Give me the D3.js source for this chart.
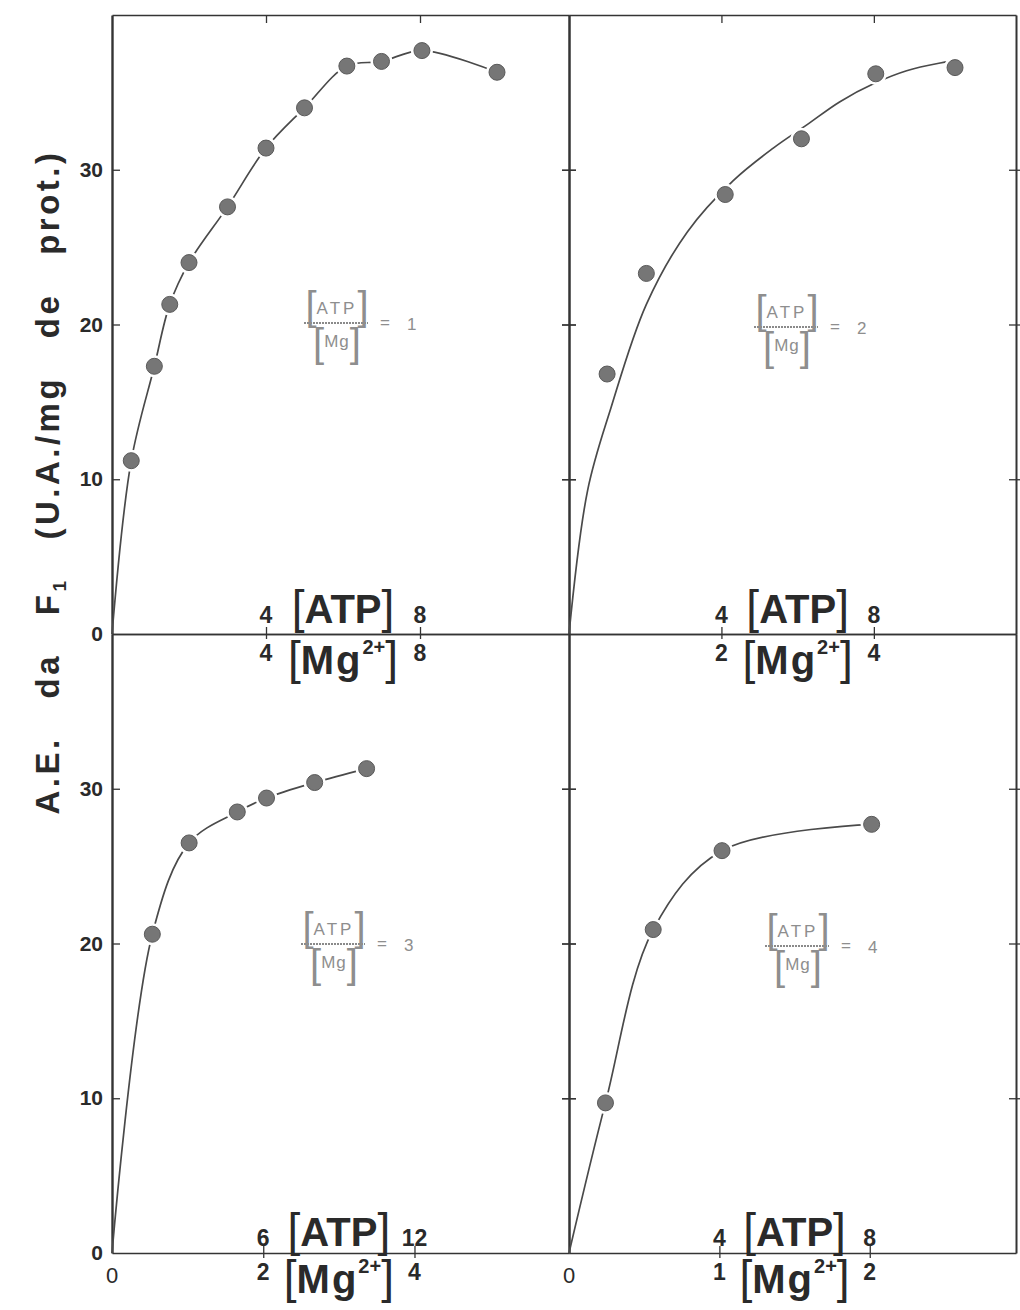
<!DOCTYPE html>
<html>
<head>
<meta charset="utf-8">
<script src="https://cdn.jsdelivr.net/npm/d3@7"></script>
<style>
  body { margin: 0; background: #fff; }
  svg { display: block; }
</style>
</head>
<body>
<svg id="chart" width="1020" height="1310"></svg>
<script>
// Specific activity of F1 (U.A./mg prot.) against [ATP], one series per [ATP]/[Mg] ratio
const atpRatio1 = [0.5, 1.1, 1.5, 2.0, 3.0, 4.0, 5.0, 6.1, 7.0, 8.05, 10.0];
const actRatio1 = [11.2, 17.3, 21.3, 24.0, 27.6, 31.4, 34.0, 36.7, 37.0, 37.7, 36.3];

const atpRatio2 = [1.0, 2.03, 4.1, 6.1, 8.05, 10.13];
const actRatio2 = [16.8, 23.3, 28.4, 32.0, 36.2, 36.6];

const atpRatio3 = [1.6, 3.06, 4.97, 6.13, 8.04, 10.1];
const actRatio3 = [20.6, 26.5, 28.5, 29.4, 30.4, 31.3];

const atpRatio4 = [0.97, 2.24, 4.07, 8.05];
const actRatio4 = [9.7, 20.9, 26.0, 27.7];

// hand-drawn saturation curve of the ratio-2 panel
const fitAtpRatio2 = [0, 0.49, 1.10, 2.03, 3.11, 4.31, 5.36, 6.24, 7.11, 8.03, 8.86, 9.74, 10.0];
const fitActRatio2 = [0, 9.3, 14.6, 21.3, 26.0, 29.3, 31.4, 32.9, 34.4, 35.6, 36.4, 36.9, 37.0];

const yTicks = [0, 10, 20, 30];
const ratios = [1, 2, 3, 4];
const atpTicks = [[4, 8], [4, 8], [6, 12], [4, 8]];
const mgTicks = [[4, 8], [2, 4], [2, 4], [1, 2]];

const svg = d3.select('#chart');
const ink = '#343434';
const grey = '#8e8e8e';
const SANS = '"Liberation Sans", Arial, Helvetica, sans-serif';

// panel frame coordinates
const XL = 112, XM = 569, XR = 1016, YT = 15, YM = 634, YB = 1253;

const panels = [
  { ratio: ratios[0], atp: atpRatio1, act: actRatio1, xr: [XL, XM], yr: [YM, YT], atpMax: 11.87, top: true,  left: true,
    label: [337, 323] },
  { ratio: ratios[1], atp: atpRatio2, act: actRatio2, xr: [XM, XR], yr: [YM, YT], atpMax: 11.73, top: true,  left: false,
    fit: [fitAtpRatio2, fitActRatio2], label: [787, 327] },
  { ratio: ratios[2], atp: atpRatio3, act: actRatio3, xr: [XL, XM], yr: [YB, YM], atpMax: 18.13, top: false, left: true,
    label: [334, 944] },
  { ratio: ratios[3], atp: atpRatio4, act: actRatio4, xr: [XM, XR], yr: [YB, YM], atpMax: 11.89, top: false, left: false,
    label: [798, 946] }
];

function styleAxis(sel) {
  sel.select('.domain').attr('stroke', ink).attr('stroke-width', 2);
  sel.selectAll('.tick line').attr('stroke', ink).attr('stroke-width', 1.3);
  sel.selectAll('.tick text').remove();
}

panels.forEach((p, i) => {
  const g = svg.append('g').attr('class', 'panel panel-' + p.ratio);
  const x = d3.scaleLinear().domain([0, p.atpMax]).range(p.xr);
  const y = d3.scaleLinear().domain([0, 40]).range(p.yr);
  const innerTicks = yTicks.slice(1);

  // left edge of the panel
  const leftAx = g.append('g')
    .attr('transform', `translate(${p.xr[0]},0)`)
    .call(d3.axisRight(y).tickValues(innerTicks).tickSize(8).tickSizeOuter(0));
  styleAxis(leftAx);
  if (p.left) leftAx.select('.domain').attr('stroke-width', 2.4);
  else leftAx.selectAll('.tick line').attr('x1', -7).attr('x2', 7);

  // right edge
  const rightAx = g.append('g')
    .attr('transform', `translate(${p.xr[1]},0)`)
    .call(d3.axisLeft(y).tickValues(innerTicks).tickSize(7).tickSizeOuter(0));
  styleAxis(rightAx);
  rightAx.selectAll('.tick line').attr('x1', -7).attr('x2', 7);

  // top edge (the lower panels share it with the upper x axis)
  const topAx = g.append('g')
    .attr('transform', `translate(0,${p.yr[1]})`)
    .call(d3.axisBottom(x).tickValues(p.top ? atpTicks[i] : []).tickSize(8).tickSizeOuter(0));
  styleAxis(topAx);
  topAx.select('.domain').attr('stroke-width', 1.6);

  // x axis (activity = 0)
  const xAx = g.append('g')
    .attr('transform', `translate(0,${p.yr[0]})`)
    .call(d3.axisBottom(x).tickValues(atpTicks[i]).tickSize(6).tickSizeOuter(0));
  styleAxis(xAx);
  xAx.select('.domain').attr('stroke-width', 1.6);
  xAx.selectAll('.tick line').attr('y1', -7).attr('y2', 5);

  // activity tick labels on the left-hand column
  if (p.left) {
    const yLab = g.append('g')
      .attr('transform', `translate(${p.xr[0]},0)`)
      .call(d3.axisLeft(y).tickValues(yTicks).tickSize(0).tickPadding(9));
    yLab.select('.domain').remove();
    yLab.selectAll('.tick text')
      .attr('font-family', SANS).attr('font-weight', 'bold')
      .attr('font-size', 21).attr('fill', '#2a2a2a');
  }

  // curve
  const line = d3.line()
    .x(d => x(d[0])).y(d => y(d[1]))
    .curve(d3.curveCatmullRom.alpha(0.5));
  const curvePts = p.fit
    ? p.fit[0].map((v, k) => [v, p.fit[1][k]])
    : [[0, 0]].concat(p.atp.map((v, k) => [v, p.act[k]]));
  g.append('path')
    .attr('d', line(curvePts))
    .attr('fill', 'none').attr('stroke', '#4a4a4a').attr('stroke-width', 1.7);

  // measured points (white ring keeps the curve clear of each dot)
  const pts = p.atp.map((v, k) => [v, p.act[k]]);
  g.selectAll('circle.halo').data(pts).join('circle')
    .attr('class', 'halo')
    .attr('cx', d => x(d[0])).attr('cy', d => y(d[1]))
    .attr('r', 11).attr('fill', '#fff');
  g.selectAll('circle.dot').data(pts).join('circle')
    .attr('class', 'dot')
    .attr('cx', d => x(d[0])).attr('cy', d => y(d[1]))
    .attr('r', 8).attr('fill', '#767676').attr('stroke', '#5a5a5a').attr('stroke-width', 1);

  // x-axis captions: [ATP] above the axis line, [Mg2+] below it, sharing the same ticks
  const ax0 = p.yr[0];
  const t = atpTicks[i], m = mgTicks[i];
  const midX = x((t[0] + t[1]) / 2);
  const numStyle = s => s.attr('font-family', SANS).attr('font-weight', 'bold')
    .attr('fill', '#2a2a2a').attr('text-anchor', 'middle');

  const above = p.top ? ax0 - 11 : ax0 - 7;
  t.forEach(v => {
    g.append('text').attr('x', x(v)).attr('y', above).attr('font-size', 23).text(v).call(numStyle);
  });
  m.forEach((v, k) => {
    g.append('text').attr('x', x(t[k])).attr('y', ax0 + 27).attr('font-size', 23).text(v).call(numStyle);
  });

  const atpT = g.append('text').attr('x', midX).attr('y', above)
    .attr('font-family', SANS).attr('fill', '#2a2a2a').attr('text-anchor', 'middle');
  atpT.append('tspan').attr('font-size', 46).attr('font-weight', 'normal').text('[');
  atpT.append('tspan').attr('font-size', 40).attr('font-weight', 'bold').text('ATP');
  atpT.append('tspan').attr('font-size', 46).attr('font-weight', 'normal').text(']');

  const mgT = g.append('text').attr('x', midX).attr('y', ax0 + 40)
    .attr('font-family', SANS).attr('fill', '#2a2a2a').attr('text-anchor', 'middle');
  mgT.append('tspan').attr('font-size', 46).attr('font-weight', 'normal').text('[');
  mgT.append('tspan').attr('font-size', 40).attr('font-weight', 'bold').attr('letter-spacing', 2).text('Mg');
  mgT.append('tspan').attr('font-size', 20).attr('font-weight', 'bold').attr('dy', -20).text('2+');
  mgT.append('tspan').attr('font-size', 46).attr('font-weight', 'normal').attr('dy', 20).text(']');

  if (!p.top) {
    g.append('text').attr('x', x(0)).attr('y', ax0 + 30).attr('font-size', 22).text('0')
      .call(numStyle).attr('font-weight', 'normal');
  }

  // ratio annotation inside the panel
  const [lx, ly] = p.label;
  const lab = g.append('g').attr('font-family', SANS).attr('fill', grey);
  lab.append('line').attr('x1', lx - 33).attr('x2', lx + 31).attr('y1', ly).attr('y2', ly)
    .attr('stroke', '#8a8a8a').attr('stroke-width', 1.8).attr('stroke-dasharray', '2 1');
  const num = lab.append('text').attr('x', lx).attr('y', ly - 9).attr('text-anchor', 'middle');
  num.append('tspan').attr('font-size', 40).attr('dy', 6).text('[');
  num.append('tspan').attr('font-size', 17).attr('letter-spacing', 3).attr('dy', -6).text('ATP');
  num.append('tspan').attr('font-size', 40).attr('dy', 6).text(']');
  const den = lab.append('text').attr('x', lx).attr('y', ly + 24).attr('text-anchor', 'middle');
  den.append('tspan').attr('font-size', 40).attr('dy', 10).text('[');
  den.append('tspan').attr('font-size', 17).attr('letter-spacing', 1).attr('dy', -10).text('Mg');
  den.append('tspan').attr('font-size', 40).attr('dy', 10).text(']');
  lab.append('text').attr('x', lx + 43).attr('y', ly + 5).attr('font-size', 17).text('=');
  lab.append('text').attr('x', lx + 70).attr('y', ly + 7).attr('font-size', 17).text(p.ratio);
});

// vertical title, letter- and word-spaced over the height of the figure
const title = svg.append('text')
  .attr('transform', 'translate(59,482) rotate(-90)')
  .attr('text-anchor', 'middle')
  .attr('font-family', SANS).attr('font-weight', 'bold')
  .attr('font-size', 33).attr('fill', '#2a2a2a')
  .attr('letter-spacing', 3.5);
title.append('tspan').text('A.E. da F');
title.append('tspan').attr('font-size', 19).attr('dy', 7).text('1');
title.append('tspan').attr('dy', -7).text(' (U.A./mg de prot.)');
const natural = title.node().getComputedTextLength();
title.attr('word-spacing', Math.max(0, (665 - natural) / 5));
</script>
</body>
</html>
